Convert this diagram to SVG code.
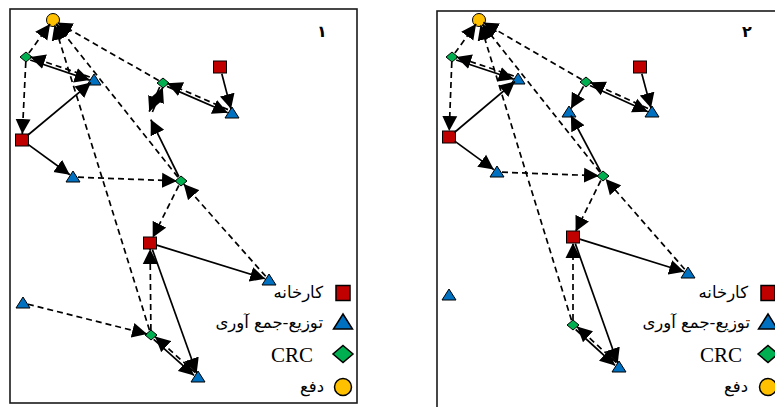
<svg xmlns="http://www.w3.org/2000/svg" xmlns:xlink="http://www.w3.org/1999/xlink" width="775" height="407" viewBox="0 0 775 407">
<style>
.frame{fill:#fff;stroke:#1a1a1a;stroke-width:1.6}
.red{fill:#C00000;stroke:#000;stroke-width:1}
.blue{fill:#0070C0;stroke:#000;stroke-width:1}
.green{fill:#00B050;stroke:#000;stroke-width:1}
.yellow{fill:#FFC000;stroke:#000;stroke-width:1}
.leg{stroke-width:1.5}
.s{stroke:#000;stroke-width:1.7;fill:none;marker-end:url(#ah)}
.d{stroke:#000;stroke-width:1.7;fill:none;stroke-dasharray:6,4;marker-end:url(#ah)}
.ar{font-family:"DejaVu Sans",sans-serif;font-size:16.5px;fill:#000;text-anchor:end}
.lat{font-family:"Liberation Serif",serif;font-size:21px;fill:#000;text-anchor:end}
.num{font-family:"DejaVu Sans",sans-serif;font-size:16px;font-weight:bold;fill:#000;text-anchor:middle}
</style>
<defs>
<marker id="ah" markerUnits="userSpaceOnUse" markerWidth="16" markerHeight="16" viewBox="0 0 16 16" refX="15" refY="8" orient="auto">
<path d="M0,0.5 L15,8 L0,15.5 z" fill="#000" stroke="none"/>
</marker>
<path id="tri" d="M0,-6 L7,5 L-7,5 z"/>
<path id="dia" d="M0,-5 L6,0 L0,5 L-6,0 z"/>
<rect id="sq" x="-6.5" y="-6" width="13" height="12"/>
<circle id="cir" r="6.5"/>
</defs>

<g id="panel1">
<rect class="frame" x="10" y="9" width="347" height="394"/>
<text class="num" x="322" y="37">۱</text>
</g>
<g id="panel2">
<rect class="frame" x="437" y="11" width="360" height="400"/>
<text class="num" x="747" y="37">۲</text>
</g>

<g id="p1-nodes">
<g id="p1-O"><use xlink:href="#cir" x="53" y="20" class="yellow"/></g>
<g id="p1-A"><use xlink:href="#dia" x="26" y="57" class="green"/></g>
<g id="p1-B"><use xlink:href="#tri" x="94" y="80" class="blue"/></g>
<g id="p1-C"><use xlink:href="#dia" x="163" y="83" class="green"/></g>
<g id="p1-D"><use xlink:href="#sq" x="220" y="67" class="red"/></g>
<g id="p1-E"><use xlink:href="#tri" x="232" y="113" class="blue"/></g>
<g id="p1-F"><use xlink:href="#sq" x="22" y="140" class="red"/></g>
<g id="p1-G"><use xlink:href="#tri" x="73" y="177" class="blue"/></g>
<g id="p1-H"><use xlink:href="#dia" x="181" y="181" class="green"/></g>
<g id="p1-J"><use xlink:href="#sq" x="150" y="243" class="red"/></g>
<g id="p1-K"><use xlink:href="#tri" x="269" y="280" class="blue"/></g>
<g id="p1-M"><use xlink:href="#tri" x="23" y="303" class="blue"/></g>
<g id="p1-I"><use xlink:href="#dia" x="151" y="335" class="green"/></g>
<g id="p1-L"><use xlink:href="#tri" x="198" y="377" class="blue"/></g>
</g>

<g id="p2-nodes">
<g id="p2-O"><use xlink:href="#cir" x="479" y="20" class="yellow"/></g>
<g id="p2-A"><use xlink:href="#dia" x="452" y="57" class="green"/></g>
<g id="p2-B"><use xlink:href="#tri" x="518" y="79" class="blue"/></g>
<g id="p2-C"><use xlink:href="#dia" x="586" y="82" class="green"/></g>
<g id="p2-D"><use xlink:href="#sq" x="640" y="67" class="red"/></g>
<g id="p2-E"><use xlink:href="#tri" x="652" y="112" class="blue"/></g>
<g id="p2-X"><use xlink:href="#tri" x="569" y="112" class="blue"/></g>
<g id="p2-F"><use xlink:href="#sq" x="449" y="137" class="red"/></g>
<g id="p2-G"><use xlink:href="#tri" x="497" y="172" class="blue"/></g>
<g id="p2-H"><use xlink:href="#dia" x="603" y="176" class="green"/></g>
<g id="p2-J"><use xlink:href="#sq" x="573" y="237" class="red"/></g>
<g id="p2-K"><use xlink:href="#tri" x="688" y="273" class="blue"/></g>
<g id="p2-M"><use xlink:href="#tri" x="449" y="295" class="blue"/></g>
<g id="p2-I"><use xlink:href="#dia" x="573" y="325" class="green"/></g>
<g id="p2-L"><use xlink:href="#tri" x="619" y="367" class="blue"/></g>
</g>

<g id="connectors">
<!-- panel 1 -->
<line class="d" x1="28.9" y1="53" x2="50.1" y2="24"/>
<line class="d" x1="158.7" y1="80.5" x2="57.3" y2="22.5"/>
<line class="d" x1="177.9" y1="177.1" x2="56.1" y2="23.9"/>
<line class="d" x1="149.5" y1="330.2" x2="54.5" y2="24.8"/>
<line class="s" x1="30.2" y1="60" x2="89.7" y2="80.1"/>
<line class="d" x1="89.8" y1="77" x2="30.3" y2="56.9"/>
<line class="s" x1="27.4" y1="135.5" x2="90.9" y2="82.6"/>
<line class="s" x1="27.7" y1="144.1" x2="69.8" y2="174.7"/>
<line class="d" x1="25.8" y1="62" x2="22.3" y2="134"/>
<line class="d" x1="78" y1="177.2" x2="177" y2="180.9"/>
<line class="s" x1="221.8" y1="73.8" x2="231" y2="109.1"/>
<line class="s" x1="167" y1="86.4" x2="227.7" y2="112.8"/>
<line class="d" x1="228" y1="109.6" x2="167.3" y2="83.2"/>
<line class="s" x1="159.7" y1="87" x2="149.2" y2="111.7"/>
<line class="s" x1="152.4" y1="112" x2="162.8" y2="87.3"/>
<line class="s" x1="178.8" y1="176.5" x2="150.8" y2="119.6"/>
<line class="d" x1="178.8" y1="185.5" x2="152.7" y2="237.6"/>
<line class="d" x1="265.7" y1="276.3" x2="183.7" y2="184"/>
<line class="s" x1="156.7" y1="245.1" x2="265.2" y2="278.8"/>
<line class="s" x1="152.4" y1="249.6" x2="196.7" y2="373.2"/>
<line class="d" x1="150.9" y1="330" x2="150.1" y2="249"/>
<line class="d" x1="27.9" y1="304.2" x2="147.1" y2="334"/>
<line class="s" x1="153.7" y1="339.4" x2="194" y2="375.4"/>
<line class="d" x1="195.3" y1="372.6" x2="155" y2="336.6"/>
<!-- panel 2 -->
<line class="d" x1="454.9" y1="53" x2="476.1" y2="24"/>
<line class="d" x1="581.7" y1="79.5" x2="483.3" y2="22.5"/>
<line class="d" x1="599.9" y1="172.1" x2="482.1" y2="23.9"/>
<line class="d" x1="571.5" y1="320.2" x2="480.5" y2="24.8"/>
<line class="s" x1="456.2" y1="60" x2="513.7" y2="79.1"/>
<line class="d" x1="513.8" y1="76" x2="456.3" y2="56.9"/>
<line class="s" x1="454.4" y1="132.5" x2="514.9" y2="81.6"/>
<line class="s" x1="454.7" y1="141.1" x2="493.8" y2="169.6"/>
<line class="d" x1="451.8" y1="62" x2="449.2" y2="131"/>
<line class="d" x1="502" y1="172.2" x2="599" y2="175.8"/>
<line class="s" x1="641.8" y1="73.8" x2="651" y2="108.1"/>
<line class="s" x1="590" y1="85.5" x2="647.8" y2="111.7"/>
<line class="d" x1="648" y1="108.5" x2="590.2" y2="82.3"/>
<line class="s" x1="583.5" y1="86.4" x2="571" y2="108.5"/>
<line class="s" x1="600.7" y1="171.6" x2="570.9" y2="115.5"/>
<line class="d" x1="600.8" y1="180.5" x2="575.6" y2="231.6"/>
<line class="d" x1="684.7" y1="269.2" x2="605.6" y2="179"/>
<line class="s" x1="579.7" y1="239.1" x2="684.2" y2="271.8"/>
<line class="s" x1="575.3" y1="243.6" x2="617.7" y2="363.2"/>
<line class="d" x1="573" y1="320" x2="573" y2="243"/>
<line class="s" x1="575.7" y1="329.5" x2="615" y2="365.4"/>
<line class="d" x1="616.3" y1="362.5" x2="577" y2="326.6"/>
</g>

<g id="legend1">
<rect class="red leg" x="336" y="285.5" width="14" height="15"/>
<text class="ar" x="323" y="298">کارخانه</text>
<path class="blue leg" d="M343,314 L352.5,329 L333.5,329 z"/>
<text class="ar" x="323" y="328">توزیع-جمع آوری</text>
<path class="green leg" d="M343,345.5 L353,354 L343,362.5 L333,354 z"/>
<text class="lat" x="313" y="362">CRC</text>
<circle class="yellow leg" cx="343" cy="387" r="8.5"/>
<text class="ar" x="324" y="392">دفع</text>
</g>
<g id="legend2">
<rect class="red leg" x="761" y="285.5" width="14" height="15"/>
<text class="ar" x="748" y="298">کارخانه</text>
<path class="blue leg" d="M768,314 L777.5,329 L758.5,329 z"/>
<text class="ar" x="750" y="328">توزیع-جمع آوری</text>
<path class="green leg" d="M768,345.5 L778,354 L768,362.5 L758,354 z"/>
<text class="lat" x="742" y="362">CRC</text>
<circle class="yellow leg" cx="768" cy="387" r="8.5"/>
<text class="ar" x="748" y="392">دفع</text>
</g>
</svg>
